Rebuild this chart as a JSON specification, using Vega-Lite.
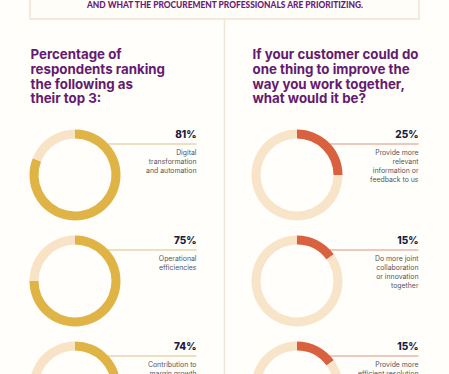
{
  "$schema": "https://vega.github.io/schema/vega-lite/v6.json",
  "width": 449,
  "height": 374,
  "autosize": {"type": "none"},
  "padding": 0,
  "background": "#fffefb",
  "config": {"view": {"stroke": null}},
  "datasets": {
    "banner": [{"label": "AND WHAT THE PROCUREMENT PROFESSIONALS ARE PRIORITIZING."}],
    "titles": [
      {"side": "left", "title": "Percentage of\nrespondents ranking\nthe following as\ntheir top 3:"},
      {"side": "right", "title": "If your customer could do\none thing to improve the\nway you work together,\nwhat would it be?"}
    ],
    "segments": [
      {"side": "left", "rank": 1, "seg": "left-share", "start": 0, "end": 81},
      {"side": "left", "rank": 1, "seg": "left-rest", "start": 81, "end": 100},
      {"side": "left", "rank": 2, "seg": "left-share", "start": 0, "end": 75},
      {"side": "left", "rank": 2, "seg": "left-rest", "start": 75, "end": 100},
      {"side": "left", "rank": 3, "seg": "left-share", "start": 0, "end": 74},
      {"side": "left", "rank": 3, "seg": "left-rest", "start": 74, "end": 100},
      {"side": "right", "rank": 1, "seg": "right-share", "start": 0, "end": 25},
      {"side": "right", "rank": 1, "seg": "right-rest", "start": 25, "end": 100},
      {"side": "right", "rank": 2, "seg": "right-share", "start": 0, "end": 15},
      {"side": "right", "rank": 2, "seg": "right-rest", "start": 15, "end": 100},
      {"side": "right", "rank": 3, "seg": "right-share", "start": 0, "end": 15},
      {"side": "right", "rank": 3, "seg": "right-rest", "start": 15, "end": 100}
    ],
    "items": [
      {"side": "left", "rank": 1, "pct": "81%", "desc": "Digital\ntransformation\nand automation"},
      {"side": "left", "rank": 2, "pct": "75%", "desc": "Operational\nefficiencies"},
      {"side": "left", "rank": 3, "pct": "74%", "desc": "Contribution to\nmargin growth"},
      {"side": "right", "rank": 1, "pct": "25%", "desc": "Provide more\nrelevant\ninformation or\nfeedback to us"},
      {"side": "right", "rank": 2, "pct": "15%", "desc": "Do more joint\ncollaboration\nor innovation\ntogether"},
      {"side": "right", "rank": 3, "pct": "15%", "desc": "Provide more\nefficient resolution\nof issues"}
    ]
  },
  "layer": [
    {
      "data": {"name": "banner"},
      "mark": {"type": "rect", "fill": "#fffdf7", "stroke": "#efe4d3", "strokeWidth": 1.5, "xOffset": -45, "x2Offset": 122, "yOffset": -10, "y2Offset": 19},
      "encoding": {
        "x": {"datum": "left", "type": "nominal", "scale": {"type": "point", "domain": ["left", "right"], "padding": 0.5113, "align": 0.3304}, "axis": null},
        "x2": {"datum": "right"},
        "y": {"datum": -0.6509, "type": "quantitative", "scale": {"type": "linear", "domain": [-0.6509, 2.8774], "reverse": true, "nice": false, "zero": false}, "axis": null},
        "y2": {"datum": -0.6509}
      }
    },
    {
      "data": {"name": "banner"},
      "mark": {"type": "text", "align": "center", "baseline": "middle", "dx": 150, "dy": 4.5, "font": "Lato", "fontWeight": 900, "fontSize": 8.4, "letterSpacing": 0.2, "fill": "#6a1a7b"},
      "encoding": {
        "x": {"datum": "left", "type": "nominal", "scale": {"type": "point", "domain": ["left", "right"], "padding": 0.5113, "align": 0.3304}, "axis": null},
        "y": {"datum": -0.6509, "type": "quantitative", "scale": {"type": "linear", "domain": [-0.6509, 2.8774], "reverse": true, "nice": false, "zero": false}, "axis": null},
        "text": {"field": "label", "type": "nominal"}
      }
    },
    {
      "data": {"name": "banner"},
      "mark": {"type": "rule", "stroke": "#efe6da", "strokeWidth": 1.5, "xOffset": -72.5, "yOffset": 19},
      "encoding": {
        "x": {"datum": "right", "type": "nominal", "scale": {"type": "point", "domain": ["left", "right"], "padding": 0.5113, "align": 0.3304}, "axis": null},
        "y": {"datum": -0.6509, "type": "quantitative", "scale": {"type": "linear", "domain": [-0.6509, 2.8774], "reverse": true, "nice": false, "zero": false}, "axis": null},
        "y2": {"datum": 2.8774}
      }
    },
    {
      "data": {"name": "titles"},
      "mark": {"type": "text", "align": "left", "baseline": "alphabetic", "dx": -44.5, "dy": -9.7, "font": "Inter", "fontWeight": 700, "fontSize": 13.3, "lineHeight": 14.7, "lineBreak": "\n", "fill": "#641a70"},
      "encoding": {
        "x": {"field": "side", "type": "nominal", "scale": {"type": "point", "domain": ["left", "right"], "padding": 0.5113, "align": 0.3304}, "axis": null},
        "y": {"datum": 0, "type": "quantitative", "scale": {"type": "linear", "domain": [-0.6509, 2.8774], "reverse": true, "nice": false, "zero": false}, "axis": null},
        "text": {"field": "title", "type": "nominal"}
      }
    },
    {
      "data": {"name": "items"},
      "mark": {"type": "rule", "strokeWidth": 1.2, "xOffset": 33, "x2Offset": 121.5, "yOffset": -31, "y2Offset": -31},
      "encoding": {
        "x": {"field": "side", "type": "nominal", "scale": {"type": "point", "domain": ["left", "right"], "padding": 0.5113, "align": 0.3304}, "axis": null},
        "x2": {"field": "side"},
        "y": {"field": "rank", "type": "quantitative", "stack": null, "scale": {"type": "linear", "domain": [-0.6509, 2.8774], "reverse": true, "nice": false, "zero": false}, "axis": null},
        "stroke": {"field": "side", "type": "nominal", "scale": {"domain": ["left", "right"], "range": ["#dcc089", "#d99483"]}, "legend": null}
      }
    },
    {
      "data": {"name": "segments"},
      "mark": {"type": "arc", "outerRadius": 45.5, "innerRadius": 36.5},
      "encoding": {
        "x": {"field": "side", "type": "nominal", "scale": {"type": "point", "domain": ["left", "right"], "padding": 0.5113, "align": 0.3304}, "axis": null},
        "y": {"field": "rank", "type": "quantitative", "stack": null, "scale": {"type": "linear", "domain": [-0.6509, 2.8774], "reverse": true, "nice": false, "zero": false}, "axis": null},
        "theta": {"field": "start", "type": "quantitative", "scale": {"domain": [0, 100], "range": [0, 6.283185]}, "stack": null},
        "theta2": {"field": "end"},
        "fill": {"field": "seg", "type": "nominal", "scale": {"domain": ["left-share", "left-rest", "right-share", "right-rest"], "range": ["#dfb345", "#f8e3c6", "#d9613f", "#f8e4c8"]}, "legend": null}
      }
    },
    {
      "data": {"name": "items"},
      "mark": {"type": "text", "align": "right", "baseline": "alphabetic", "dx": 121.5, "dy": -37.3, "font": "Inter", "fontWeight": 800, "fontSize": 10, "fill": "#1c1a3a"},
      "encoding": {
        "x": {"field": "side", "type": "nominal", "scale": {"type": "point", "domain": ["left", "right"], "padding": 0.5113, "align": 0.3304}, "axis": null},
        "y": {"field": "rank", "type": "quantitative", "stack": null, "scale": {"type": "linear", "domain": [-0.6509, 2.8774], "reverse": true, "nice": false, "zero": false}, "axis": null},
        "text": {"field": "pct", "type": "nominal"}
      }
    },
    {
      "data": {"name": "items"},
      "mark": {"type": "text", "align": "right", "baseline": "alphabetic", "dx": 121.5, "dy": -19.5, "font": "Inter", "fontSize": 6.9, "lineHeight": 8.9, "lineBreak": "\n", "fill": "#55555f"},
      "encoding": {
        "x": {"field": "side", "type": "nominal", "scale": {"type": "point", "domain": ["left", "right"], "padding": 0.5113, "align": 0.3304}, "axis": null},
        "y": {"field": "rank", "type": "quantitative", "stack": null, "scale": {"type": "linear", "domain": [-0.6509, 2.8774], "reverse": true, "nice": false, "zero": false}, "axis": null},
        "text": {"field": "desc", "type": "nominal"}
      }
    }
  ]
}
